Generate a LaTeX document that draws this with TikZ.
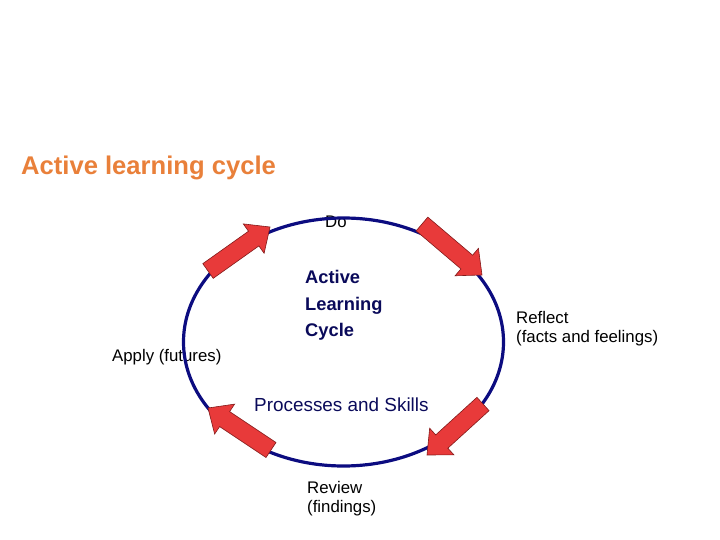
\documentclass[tikz,border=0pt]{standalone}
\usepackage{fontspec}
\setmainfont{Liberation Sans}
\usetikzlibrary{calc}
\definecolor{titleorange}{RGB}{233,128,58}
\definecolor{navy}{RGB}{12,12,128}
\definecolor{cyclenavy}{RGB}{10,10,90}
\definecolor{arrowred}{RGB}{232,58,58}
\definecolor{arrowedge}{RGB}{130,25,25}
\tikzset{
  lbl/.style={anchor=base west, inner sep=0pt, font=\fontsize{16.8}{19}\selectfont},
  biglbl/.style={anchor=base west, inner sep=0pt, text=cyclenavy, font=\fontsize{18.9}{24}\selectfont},
  boldlbl/.style={biglbl, font=\fontsize{18.3}{24}\selectfont\bfseries},
  ttl/.style={anchor=base west, inner sep=0pt, text=titleorange, font=\fontsize{25.6}{30}\selectfont\bfseries},
  ring/.style={draw=navy, line width=3.2pt},
  blockarrow/.style={fill=arrowred, draw=arrowedge, line width=0.6pt, line join=miter}
}
\newcommand\blockarrow[2]{%
  \coordinate (H) at ($(#2)!20pt!(#1)$);
  \draw[blockarrow] ($(#1)!9pt!90:(#2)$) -- ($(H)!9pt!90:(#2)$) -- ($(H)!18pt!90:(#2)$)
    -- (#2) -- ($(H)!18pt!-90:(#2)$) -- ($(H)!9pt!-90:(#2)$) -- ($(#1)!9pt!-90:(#2)$) -- cycle;%
}
\begin{document}
\begin{tikzpicture}[x=1pt,y=-1pt]
\useasboundingbox (0,0) rectangle (720,540);
% texts
\node[ttl] (title) at (21,175) {Active learning cycle};
\node[lbl] (do) at (325,228) {Do};
\node[boldlbl] (al1) at (305,283) {Active};
\node[boldlbl] (al2) at (305,310) {Learning};
\node[boldlbl] (al3) at (305,336) {Cycle};
\node[lbl] (refl1) at (516,323) {Reflect};
\node[lbl] (refl2) at (516,342) {(facts and feelings)};
\node[lbl] (apply) at (112,361) {Apply (futures)};
\node[biglbl] (proc) at (254,411) {Processes and Skills};
\node[lbl] (rev1) at (307,493) {Review};
\node[lbl] (rev2) at (307,512) {(findings)};
% cycle
\draw[ring] (343.5,342) ellipse [x radius=160, y radius=124];
% arrows
\coordinate (t1) at (208,271); \coordinate (p1) at (270,227);
\coordinate (t2) at (422,224); \coordinate (p2) at (482,275);
\coordinate (t3) at (483,404); \coordinate (p3) at (427,455);
\coordinate (t4) at (271,450); \coordinate (p4) at (208,408);
\blockarrow{t1}{p1}
\blockarrow{t2}{p2}
\blockarrow{t3}{p3}
\blockarrow{t4}{p4}
\end{tikzpicture}
\end{document}
